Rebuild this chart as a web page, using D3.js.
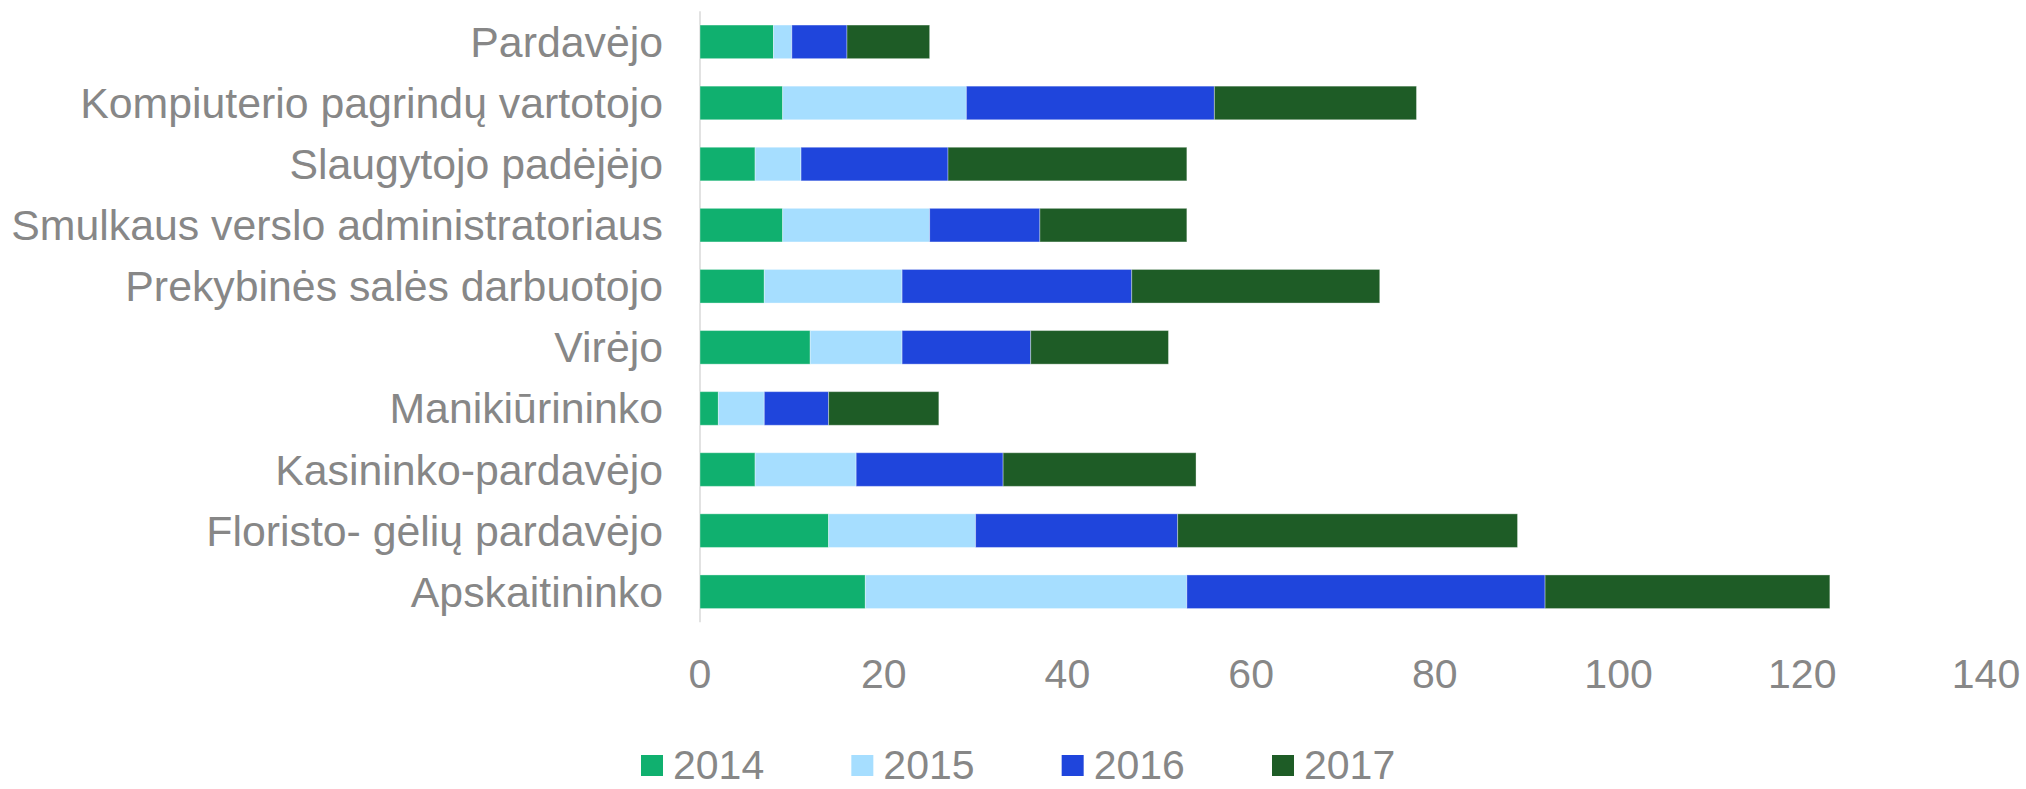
<!DOCTYPE html>
<html>
<head>
<meta charset="utf-8">
<script src="https://cdn.jsdelivr.net/npm/d3@7"></script>
<style>
  html, body { margin: 0; padding: 0; background: #ffffff; overflow: hidden; }
  svg { display: block; }
  text { font-family: "Liberation Sans", Arial, sans-serif; fill: #878787; }
</style>
</head>
<body>
<svg id="chart" width="2026" height="789"></svg>
<script>
const categories = [
  "Pardavėjo",
  "Kompiuterio pagrindų vartotojo",
  "Slaugytojo padėjėjo",
  "Smulkaus verslo administratoriaus",
  "Prekybinės salės darbuotojo",
  "Virėjo",
  "Manikiūrininko",
  "Kasininko-pardavėjo",
  "Floristo- gėlių pardavėjo",
  "Apskaitininko"
];
const seriesNames = ["2014", "2015", "2016", "2017"];
const values2014 = [8, 9, 6, 9, 7, 12, 2, 6, 14, 18];
const values2015 = [2, 20, 5, 16, 15, 10, 5, 11, 16, 35];
const values2016 = [6, 27, 16, 12, 25, 14, 7, 16, 22, 39];
const values2017 = [9, 22, 26, 16, 27, 15, 12, 21, 37, 31];
const xTicks = [0, 20, 40, 60, 80, 100, 120, 140];
const colors = ["#10B06F", "#A6DEFF", "#1F45DC", "#1E5C26"];

const svg = d3.select("#chart");
const series = [values2014, values2015, values2016, values2017];

const rows = categories.map((c, i) => {
  const r = { category: c };
  seriesNames.forEach((s, k) => r[s] = series[k][i]);
  return r;
});
const stacked = d3.stack().keys(seriesNames)(rows);

const x = d3.scaleLinear().domain([0, 140]).range([700, 1986]);
const y = d3.scaleBand().domain(categories).range([11.3, 622.3])
  .paddingInner(0.45).paddingOuter(0.225);

// axis line
svg.append("line")
  .attr("x1", x(0)).attr("x2", x(0))
  .attr("y1", y.range()[0]).attr("y2", y.range()[1])
  .attr("stroke", "#d9d9d9").attr("stroke-width", 1.5);

// bars
svg.append("g").selectAll("g")
  .data(stacked).join("g")
  .attr("fill", (d, i) => colors[i])
  .selectAll("rect")
  .data(d => d).join("rect")
  .attr("x", d => x(d[0]))
  .attr("width", d => x(d[1]) - x(d[0]))
  .attr("y", d => y(d.data.category))
  .attr("height", y.bandwidth())
  .attr("stroke", "rgba(255,255,255,0.35)")
  .attr("stroke-width", 1);

// category labels
svg.append("g").selectAll("text")
  .data(categories).join("text")
  .attr("x", 663)
  .attr("y", d => y(d) + y.bandwidth() / 2)
  .attr("dy", "0.35em")
  .attr("text-anchor", "end")
  .attr("font-size", 42.8)
  .text(d => d);

// x tick labels
svg.append("g").selectAll("text")
  .data(xTicks).join("text")
  .attr("x", d => x(d))
  .attr("y", 688)
  .attr("text-anchor", "middle")
  .attr("font-size", 41)
  .text(d => d);

// legend
const legendX = d3.scalePoint().domain(seriesNames).range([641, 1272]);
const lg = svg.append("g").selectAll("g")
  .data(seriesNames).join("g")
  .attr("transform", d => `translate(${legendX(d)},0)`);
lg.append("rect")
  .attr("x", 0).attr("y", 755).attr("width", 22).attr("height", 21)
  .attr("fill", (d, i) => colors[i]);
lg.append("text")
  .attr("x", 32).attr("y", 779)
  .attr("font-size", 41)
  .text(d => d);
</script>
</body>
</html>
